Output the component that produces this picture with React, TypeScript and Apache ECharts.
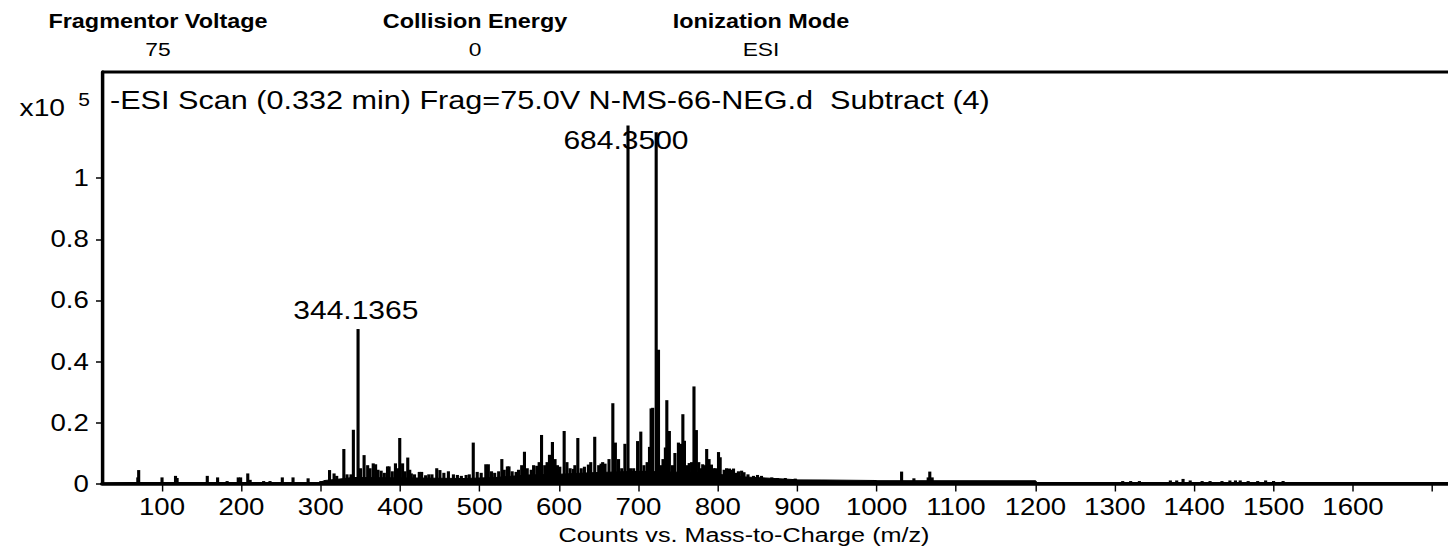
import React, { useEffect, useRef } from "react";
import * as echarts from "echarts";

// ---- data (intensity in units of 10^5 counts) ----
const stickMz = [
  69.5, 70.6, 100, 117, 119, 157, 170, 182, 196, 199, 208, 211, 228, 236, 251.5, 265, 284, 300,
  311, 316.7, 320, 329, 333, 338, 341, 346.9, 350, 354.5, 359, 362, 366, 369, 372, 376, 380, 384, 386, 390, 394, 397, 399.4, 403, 406, 409.5, 412, 414, 418,
  424, 427, 432, 436, 440, 446, 450, 455, 460.7, 467, 472, 477, 483, 487, 492, 497, 502, 507.8, 511, 515, 519, 524,
  528, 531, 535, 537, 541, 546, 549, 553, 556.5, 560, 565, 568, 572, 575, 578, 582, 585, 588, 591.7, 595, 598, 601, 606.5, 610,
  614, 618, 620, 623.7, 628, 632, 637, 640, 645, 650, 653, 655,
  658, 663, 667.8, 671, 675, 679, 683, 686.9, 690, 694, 699, 703, 707, 711, 714,
  716, 718, 722.4, 725.3, 729, 731, 734, 735.8, 739, 743, 746, 750.4, 754, 756, 758, 761, 764, 767, 770, 773, 776, 779, 781,
  784, 786, 789, 792, 795, 797, 800.9, 803, 808, 811, 814.7, 817, 819.8, 823, 826, 830, 833, 838, 845, 850, 855, 868, 875, 885, 897.5,
  1031.5, 1047, 1065, 1067, 1070,
  1310, 1320, 1331, 1370, 1378, 1386, 1395, 1410, 1420, 1435, 1445, 1452, 1458, 1468, 1480, 1490, 1500, 1512,
];
const stickInt = [
  0.02, 0.044, 0.02, 0.025, 0.018, 0.025, 0.02, 0.008, 0.02, 0.02, 0.033, 0.012, 0.008, 0.008, 0.02, 0.02, 0.017, 0.008,
  0.044, 0.033, 0.025, 0.113, 0.03, 0.03, 0.176, 0.506, 0.05, 0.093, 0.06, 0.05, 0.066, 0.063, 0.045, 0.042, 0.035, 0.056, 0.056, 0.04, 0.066, 0.05, 0.149, 0.066, 0.04, 0.085, 0.045, 0.033, 0.03,
  0.038, 0.038, 0.027, 0.03, 0.03, 0.05, 0.044, 0.035, 0.04, 0.03, 0.028, 0.025, 0.028, 0.03, 0.134, 0.038, 0.035, 0.063, 0.063, 0.04, 0.035, 0.04,
  0.08, 0.045, 0.056, 0.056, 0.04, 0.038, 0.045, 0.06, 0.104, 0.05, 0.045, 0.06, 0.058, 0.07, 0.159, 0.06, 0.07, 0.094, 0.136, 0.08, 0.06, 0.055, 0.172, 0.07,
  0.05, 0.048, 0.06, 0.149, 0.05, 0.055, 0.062, 0.07, 0.153, 0.06, 0.065, 0.07,
  0.065, 0.08, 0.263, 0.134, 0.08, 0.05, 0.13, 1.173, 0.05, 0.05, 0.139, 0.17, 0.06, 0.07, 0.12,
  0.246, 0.248, 1.151, 0.438, 0.06, 0.08, 0.118, 0.273, 0.172, 0.06, 0.1, 0.134, 0.13, 0.227, 0.14, 0.06, 0.067, 0.07, 0.318, 0.175, 0.07, 0.05, 0.063,
  0.06, 0.113, 0.08, 0.062, 0.05, 0.05, 0.103, 0.086, 0.045, 0.05, 0.049, 0.045, 0.049, 0.035, 0.04, 0.042, 0.037, 0.03, 0.025, 0.028, 0.025, 0.02, 0.018, 0.018, 0.016,
  0.039, 0.017, 0.02, 0.039, 0.02,
  0.008, 0.008, 0.008, 0.01, 0.01, 0.015, 0.01, 0.008, 0.008, 0.008, 0.01, 0.01, 0.01, 0.008, 0.008, 0.01, 0.008, 0.008,
];
// dense noise floor under the sticks
const floorMz = [25, 60, 300, 305, 330, 340, 420, 480, 520, 560, 600, 640, 700, 780, 800, 830, 860, 900, 1000, 1200, 1202, 1720];
const floorInt = [0.002, 0.003, 0.004, 0.01, 0.016, 0.02, 0.018, 0.016, 0.02, 0.028, 0.03, 0.035, 0.04, 0.035, 0.03, 0.022, 0.018, 0.012, 0.01, 0.009, 0.003, 0.003];

const peakLabels = ["344.1365", "684.3500"];
const peakLabelMz = [344.1365, 684.35];
const peakLabelY = [0.566, 1.123];

const xTickValues = [100, 200, 300, 400, 500, 600, 700, 800, 900, 1000, 1100, 1200, 1300, 1400, 1500, 1600, 1700];
const xLabelValues = [100, 200, 300, 400, 500, 600, 700, 800, 900, 1000, 1100, 1200, 1300, 1400, 1500, 1600];
const yTickValues = [0, 0.2, 0.4, 0.6, 0.8, 1];

const headerNames = ["Fragmentor Voltage", "Collision Energy", "Ionization Mode"];
const headerValues = ["75", "0", "ESI"];
const headerX = [158, 475, 761];

const S = 1.2; // horizontal stretch of the reference
const W0 = 1448 / S;
const FONT = "'Liberation Sans', Arial, sans-serif";

export default function App() {
  const ref = useRef<HTMLDivElement>(null);
  useEffect(() => {
    if (!ref.current) return;
    const chart = echarts.init(ref.current, undefined, { renderer: "svg" });
    const sticks = stickMz.map((m, i) => [m, stickInt[i]]);
    const floor = floorMz.map((m, i) => [m, floorInt[i]]);
    const ann = peakLabelMz.map((m, i) => ({ value: [m, peakLabelY[i]], name: peakLabels[i] }));
    const graphics: any[] = [
      {
        type: "line",
        shape: { x1: 102 / S, y1: 72, x2: W0, y2: 72 },
        style: { stroke: "#000", lineWidth: 3 },
      },
      {
        type: "text",
        x: 110 / S,
        y: 100,
        style: {
          text: "-ESI Scan (0.332 min) Frag=75.0V N-MS-66-NEG.d  Subtract (4)",
          fontSize: 25.5,
          fontFamily: FONT,
          fill: "#000",
          verticalAlign: "middle",
          align: "left",
        },
      },
      {
        type: "text",
        x: 65 / S,
        y: 108,
        style: { text: "x10", fontSize: 23.5, fontFamily: FONT, fill: "#000", verticalAlign: "middle", align: "right" },
      },
      {
        type: "text",
        x: 84 / S,
        y: 100,
        style: { text: "5", fontSize: 17.5, fontFamily: FONT, fill: "#000", verticalAlign: "middle", align: "center" },
      },
      {
        type: "text",
        x: 744 / S,
        y: 535,
        style: {
          text: "Counts vs. Mass-to-Charge (m/z)",
          fontSize: 21,
          fontFamily: FONT,
          fill: "#000",
          verticalAlign: "middle",
          align: "center",
        },
      },
    ];
    headerNames.forEach((n, i) => {
      graphics.push({
        type: "text",
        x: headerX[i] / S,
        y: 22,
        style: { text: n, fontSize: 19.5, fontWeight: "bold", fontFamily: FONT, fill: "#000", verticalAlign: "middle", align: "center" },
      });
      graphics.push({
        type: "text",
        x: headerX[i] / S,
        y: 49,
        style: { text: headerValues[i], fontSize: 19, fontFamily: FONT, fill: "#000", verticalAlign: "middle", align: "center" },
      });
    });

    chart.setOption({
      animation: false,
      backgroundColor: "#fff",
      grid: { left: 102 / S, right: 0, top: 72, bottom: 68.5, containLabel: false },
      xAxis: {
        type: "value",
        min: 24.4,
        max: 1720.2,
        axisLine: { show: true, lineStyle: { color: "#000", width: 3.5 } },
        axisTick: { show: true, length: 8, lineStyle: { color: "#000", width: 1.2 }, customValues: xTickValues },
        axisLabel: {
          customValues: xLabelValues,
          formatter: (v: number) => String(v),
          fontSize: 23,
          color: "#000",
          fontFamily: FONT,
          margin: 12,
        },
        splitLine: { show: false },
      },
      yAxis: {
        type: "value",
        min: 0,
        max: 1.348,
        axisLine: { show: true, lineStyle: { color: "#000", width: 3.5 / S } },
        axisTick: { show: true, length: 6 / S, lineStyle: { color: "#000", width: 1.5 }, customValues: yTickValues },
        axisLabel: {
          customValues: yTickValues,
          formatter: (v: number) => String(v),
          fontSize: 23,
          color: "#000",
          fontFamily: FONT,
          margin: 11,
        },
        splitLine: { show: false },
      },
      series: [
        {
          type: "line",
          data: floor,
          symbol: "none",
          lineStyle: { color: "#000", width: 1 },
          areaStyle: { color: "#000", opacity: 1 },
          z: 1,
        },
        {
          type: "bar",
          data: sticks,
          barWidth: 2.6,
          itemStyle: { color: "#000" },
          z: 2,
        },
        {
          type: "scatter",
          data: ann,
          symbolSize: 0,
          itemStyle: { color: "#000", opacity: 1 },
          label: {
            show: true,
            position: "inside",
            formatter: (p: any) => p.name,
            fontSize: 25,
            color: "#000",
            opacity: 1,
            textBorderWidth: 0,
            textBorderColor: "transparent",
            fontFamily: FONT,
          },
          z: 3,
        },
      ],
      graphic: graphics,
    });
    return () => chart.dispose();
  }, []);
  return (
    <div
      ref={ref}
      style={{
        position: "fixed",
        left: 0,
        top: 0,
        width: W0,
        height: 552,
        transform: `scaleX(${S})`,
        transformOrigin: "0 0",
        background: "#fff",
      }}
    />
  );
}
